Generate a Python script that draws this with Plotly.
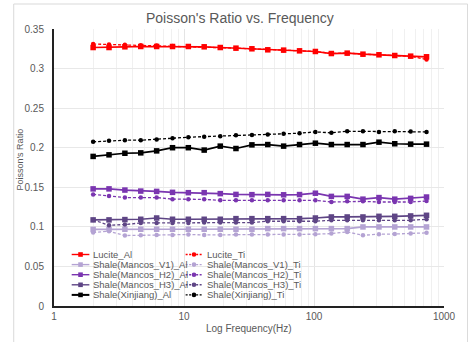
import plotly.graph_objects as go

# ---------------- data ----------------
freq = [2, 2.65, 3.51, 4.65, 6.16, 8.16, 10.8, 14.3, 19.0, 25.1, 33.3,
        44.1, 58.4, 77.4, 102.5, 136, 180, 238, 316, 418, 554, 734]

lucite_al = [0.3266, 0.3266, 0.3275, 0.3279, 0.3279, 0.3279, 0.3279, 0.3275, 0.3266, 0.3258, 0.3250,
             0.3237, 0.3233, 0.3224, 0.3216, 0.3190, 0.3195, 0.3182, 0.3174, 0.3165, 0.3157, 0.3149]
lucite_ti = [0.3310, 0.3305, 0.3300, 0.3295, 0.3290, 0.3285, 0.3280, 0.3275, 0.3266, 0.3258, 0.3250,
             0.3237, 0.3233, 0.3224, 0.3216, 0.3192, 0.3195, 0.3182, 0.3174, 0.3165, 0.3155, 0.3115]
v1_al = [0.0968, 0.0970, 0.0970, 0.0970, 0.0970, 0.0970, 0.0970, 0.0970, 0.0970, 0.0970, 0.0970,
         0.0978, 0.0978, 0.0978, 0.0978, 0.0978, 0.0978, 0.0999, 0.0999, 0.0999, 0.0999, 0.0999]
v1_ti = [0.0928, 0.0945, 0.0890, 0.0894, 0.0898, 0.0898, 0.0903, 0.0898, 0.0898, 0.0903, 0.0903,
         0.0903, 0.0903, 0.0903, 0.0907, 0.0915, 0.0936, 0.0894, 0.0907, 0.0910, 0.0915, 0.0924]
h2_al = [0.1480, 0.1480, 0.1465, 0.1452, 0.1448, 0.1436, 0.1432, 0.1432, 0.1420, 0.1410, 0.1407,
         0.1410, 0.1405, 0.1408, 0.1425, 0.1385, 0.1385, 0.1350, 0.1370, 0.1350, 0.1360, 0.1377]
h2_ti = [0.1410, 0.1390, 0.1370, 0.1370, 0.1370, 0.1350, 0.1350, 0.1348, 0.1335, 0.1335, 0.1335,
         0.1335, 0.1335, 0.1335, 0.1335, 0.1314, 0.1322, 0.1322, 0.1314, 0.1314, 0.1314, 0.1327]
h3_al = [0.1088, 0.1088, 0.1092, 0.1096, 0.1112, 0.1096, 0.1096, 0.1096, 0.1096, 0.1104, 0.1104,
         0.1104, 0.1104, 0.1104, 0.1112, 0.1125, 0.1125, 0.1125, 0.1133, 0.1133, 0.1138, 0.1146]
h3_ti = [0.1088, 0.1020, 0.1029, 0.1050, 0.1050, 0.1050, 0.1050, 0.1054, 0.1054, 0.1054, 0.1054,
         0.1071, 0.1071, 0.1071, 0.1071, 0.1083, 0.1083, 0.1083, 0.1083, 0.1083, 0.1083, 0.1096]
xj_al = [0.1890, 0.1910, 0.1930, 0.1935, 0.1960, 0.2000, 0.2000, 0.1970, 0.2020, 0.1990, 0.2036,
         0.2040, 0.2020, 0.2040, 0.2057, 0.2040, 0.2040, 0.2040, 0.2070, 0.2050, 0.2045, 0.2045]
xj_ti = [0.2074, 0.2087, 0.2095, 0.2095, 0.2103, 0.2120, 0.2133, 0.2140, 0.2145, 0.2157, 0.2162,
         0.2166, 0.2175, 0.2183, 0.2200, 0.2188, 0.2208, 0.2208, 0.2200, 0.2208, 0.2204, 0.2200]

names_al = ["Lucite_Al", "Shale(Mancos_V1)_Al", "Shale(Mancos_H2)_Al",
            "Shale(Mancos_H3)_Al", "Shale(Xinjiang)_Al"]
names_ti = ["Lucite_Ti", "Shale(Mancos_V1)_Ti", "Shale(Mancos_H2)_Ti",
            "Shale(Mancos_H3)_Ti", "Shale(Xinjiang)_Ti"]
series_al = [lucite_al, v1_al, h2_al, h3_al, xj_al]
series_ti = [lucite_ti, v1_ti, h2_ti, h3_ti, xj_ti]

y_ticks = [0, 0.05, 0.1, 0.15, 0.2, 0.25, 0.3, 0.35]
y_ticktext = ["0", "0.05", "0.1", "0.15", "0.2", "0.25", "0.3", "0.35"]
x_ticks = [1, 10, 100, 1000]
x_ticktext = ["1", "10", "100", "1000"]

# ---------------- styling ----------------
colors = ["#FF0000", "#B4A3D3", "#7A35B0", "#5E4585", "#000000"]
W, H = 468, 342
ML, MR, MT, MB = 54, 17, 29, 36
PW, PH = W - ML - MR, H - MT - MB
TXT = "#595959"
FONT = "Liberation Sans, Arial, sans-serif"


def px_x(x):
    return (x - ML) / PW


def px_y(y):
    return (H - MB - y) / PH


fig = go.Figure()
for name, ys, c in zip(names_al, series_al, colors):
    fig.add_trace(go.Scatter(x=freq, y=ys, name=name, mode="lines+markers",
                             line=dict(color=c, width=1.7),
                             marker=dict(symbol="square", size=5.5, color=c),
                             showlegend=False))
for name, ys, c in zip(names_ti, series_ti, colors):
    fig.add_trace(go.Scatter(x=freq, y=ys, name=name, mode="lines+markers",
                             line=dict(color=c, width=1.3, dash="3px,2px"),
                             marker=dict(symbol="circle", size=4.5, color=c),
                             showlegend=False))

shapes = []
annotations = []
# outer chart frame
shapes.append(dict(type="rect", xref="paper", yref="paper",
                   x0=px_x(13), x1=px_x(475), y0=px_y(350), y1=px_y(4),
                   line=dict(color="#d9d9d9", width=1), layer="below"))

# custom legend (two columns)
row_y = [254.5 + i * 10.1 for i in range(5)]
cols = [(72, 90, 92, names_al, "solid", "square"), (188, 205, 208, names_ti, "dot", "circle")]
for (lx0, lx1, tx, nm, dash, sym) in cols:
    for i, (n, c) in enumerate(zip(nm, colors)):
        yy = px_y(row_y[i])
        shapes.append(dict(type="line", xref="paper", yref="paper",
                           x0=px_x(lx0), x1=px_x(lx1), y0=yy, y1=yy,
                           line=dict(color=c, width=2 if i == 4 and dash == "solid" else 1.4,
                                     dash="solid" if dash == "solid" else "2px,1.5px")))
        shapes.append(dict(type="rect" if sym == "square" else "circle",
                           xref="paper", yref="paper",
                           xsizemode="pixel", ysizemode="pixel",
                           xanchor=px_x((lx0 + lx1) / 2), yanchor=yy,
                           x0=-2.3, x1=2.3, y0=-2.3, y1=2.3,
                           fillcolor=c, line=dict(width=0)))
        annotations.append(dict(xref="paper", yref="paper", x=px_x(tx), y=yy,
                                text=n, showarrow=False, xanchor="left", yanchor="middle",
                                font=dict(size=9.5, color=TXT, family=FONT)))

annotations.append(dict(xref="paper", yref="paper", x=px_x(243), y=px_y(18),
                        text="Poisson's Ratio vs. Frequency", showarrow=False,
                        xanchor="center", yanchor="middle",
                        font=dict(size=14, color=TXT, family=FONT)))
annotations.append(dict(xref="paper", yref="paper", x=px_x(252), y=px_y(328),
                        text="Log Frequency(Hz)", showarrow=False,
                        xanchor="center", yanchor="middle",
                        font=dict(size=10, color=TXT, family=FONT)))
annotations.append(dict(xref="paper", yref="paper", x=px_x(19), y=px_y(160),
                        text="Poisson's Ratio", showarrow=False, textangle=-90,
                        xanchor="center", yanchor="middle",
                        font=dict(size=9, color=TXT, family=FONT)))

minor_vals = [m * d for d in (1, 10, 100) for m in range(2, 10)]

fig.update_layout(
    width=W, height=H,
    margin=dict(l=ML, r=MR, t=MT, b=MB),
    paper_bgcolor="white", plot_bgcolor="white",
    font=dict(family=FONT, color=TXT),
    shapes=shapes, annotations=annotations,
    xaxis=dict(type="log", range=[0, 3], tickmode="array", tickvals=x_ticks,
               ticktext=x_ticktext, showgrid=True, gridcolor="#e4e4e4", gridwidth=1,
               showline=True, linecolor="#222222", linewidth=2, ticks="",
               tickfont=dict(size=10, color=TXT), zeroline=False,
               minor=dict(tickmode="array", tickvals=minor_vals, showgrid=True,
                          gridcolor="#f0f0f0", gridwidth=1, ticks="")),
    yaxis=dict(range=[0, 0.35], tickmode="array", tickvals=y_ticks, ticktext=y_ticktext,
               showgrid=True, gridcolor="#e8e8e8", gridwidth=1,
               showline=True, linecolor="#222222", linewidth=2, ticks="",
               ticklabelstandoff=6, tickfont=dict(size=10, color=TXT), zeroline=False),
)

fig.write_html("out.html")
